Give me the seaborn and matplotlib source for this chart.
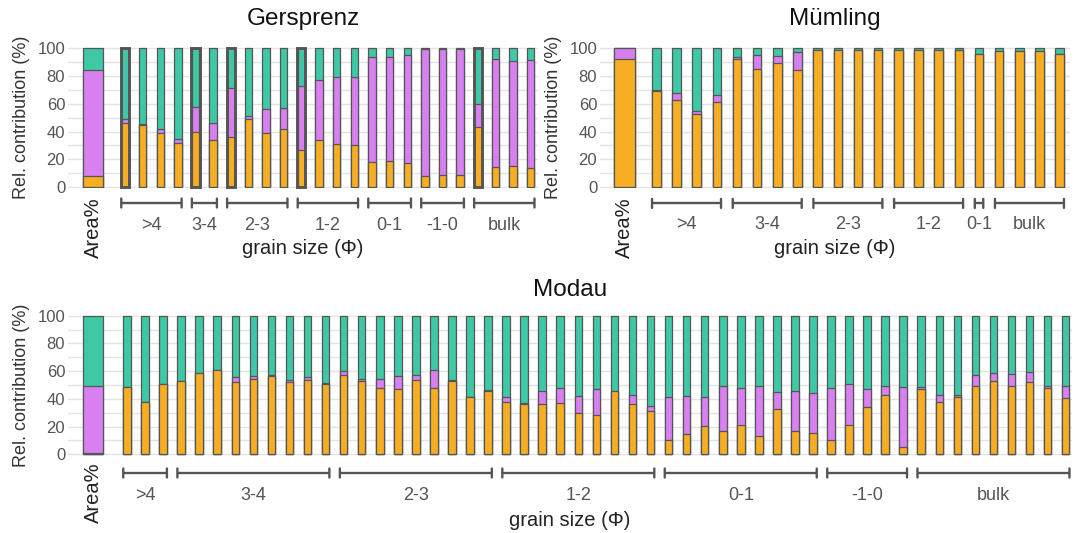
import matplotlib
matplotlib.use("Agg")
import matplotlib.pyplot as plt
import matplotlib.transforms as mtransforms
import numpy as np
import pandas as pd
import seaborn as sns

sns.set_theme(style="white")
plt.rcParams['font.family'] = ['Liberation Sans', 'DejaVu Sans']

ORANGE = "#F8AE22"
PURPLE = "#D880F0"
TEAL = "#3FC8A6"
EDGE = "#555555"

# ---------------- data ----------------
# Gersprenz
ger_area = [8, 76, 16]  # orange, purple, teal
ger_groups = [">4", "3-4", "2-3", "1-2", "0-1", "-1-0", "bulk"]
ger_counts = [4, 2, 4, 4, 3, 3, 4]
ger_orange = [46, 44.5, 39, 31.5, 39.5, 34, 36, 49, 39, 42, 27, 34, 31, 30.5,
              18, 18.5, 17.5, 8, 8.5, 8.5, 43, 14.5, 15.5, 14]
ger_purple = [3, 1, 2.5, 3, 18.5, 12, 35.5, 2, 17.5, 15, 45.5, 43.5, 48, 48.5,
              75.5, 75, 78, 91.5, 91, 91, 16.5, 77.5, 75.5, 77.5]
ger_teal = [51, 54.5, 58.5, 65.5, 42, 54, 28.5, 49, 43.5, 43, 27.5, 22.5, 21, 21,
            6.5, 6.5, 4.5, 0.5, 0.5, 0.5, 40.5, 8, 9, 8.5]
ger_highlight = [0, 4, 6, 10, 20]

# Mümling
mue_area = [92.5, 7.5, 0]
mue_groups = [">4", "3-4", "2-3", "1-2", "0-1", "bulk"]
mue_counts = [4, 4, 4, 4, 1, 4]
mue_orange = [69.5, 62.5, 52.5, 61, 92, 85, 89.5, 84, 99, 99, 99, 99, 99, 99, 99, 99,
              95.8, 98.3, 98, 98.3, 95.8]
mue_purple = [0.7, 5, 2.5, 5, 1.5, 10.5, 5, 13, 0, 0, 0, 0, 0, 0, 0, 0,
              0, 0, 0.4, 0, 0]
mue_teal = [29.8, 32.5, 45, 34, 6.5, 4.5, 5.5, 3, 1, 1, 1, 1, 1, 1, 1, 1,
            4.2, 1.7, 1.6, 1.7, 4.2]
mue_highlight = []

# Modau
mod_area = [1, 48.5, 50.5]
mod_groups = [">4", "3-4", "2-3", "1-2", "0-1", "-1-0", "bulk"]
mod_counts = [3, 9, 9, 9, 9, 5, 9]
mod_orange = [48.5, 38, 51,
              53, 58.5, 61, 52.5, 54.5, 56.5, 52, 53.5, 51,
              57.5, 53, 47.5, 47, 53.5, 47.5, 53, 41, 46,
              38, 36.5, 36.5, 37, 30, 28, 45.5, 36, 31.5,
              10.5, 15, 20.5, 16.5, 21.5, 13.5, 32.5, 17, 15.5,
              10.5, 21, 34, 42.5, 5.5,
              47, 37.5, 41, 49, 53, 49.5, 52.5, 48, 40.5]
mod_purple = [0, 0, 0,
              0, 0.5, 0, 3, 2, 1, 1.5, 2, 0.7,
              2.5, 1, 7, 9.5, 4, 13.5, 0.5, 0.7, 0.5,
              3.5, 0.5, 9.5, 10.5, 12, 19, 0.5, 7, 3,
              30.5, 27, 21, 32.5, 26.5, 35.5, 12.5, 29, 29,
              37, 29.5, 13, 6.5, 43,
              1.5, 5, 1.5, 8, 5.5, 8.5, 7, 1, 9]
mod_teal = [51.5, 62, 49,
            47, 41, 39, 44.5, 43.5, 42.5, 46.5, 44.5, 48.3,
            40, 46, 45.5, 43.5, 42.5, 39, 46.5, 58.3, 53.5,
            58.5, 63, 54, 52.5, 58, 53, 54, 57, 65.5,
            59, 58, 58.5, 51, 52, 51, 55, 54, 55.5,
            52.5, 49.5, 53, 51, 51.5,
            51.5, 57.5, 57.5, 43, 41.5, 42, 40.5, 51, 50.5]
mod_highlight = []

W, H = 1077, 533
fig = plt.figure(figsize=(W / 100, H / 100), dpi=100)


def px_rect(x0, y0, x1, y1):
    return [x0 / W, 1 - y1 / H, (x1 - x0) / W, (y1 - y0) / H]


def draw_panel(rect, title, area, orange, purple, teal, groups, counts, highlight,
               xlim, area_shift, area_width, offs, title_off):
    ax = fig.add_axes(px_rect(*rect))
    n = len(orange)
    cats = ["Area%", "_gap"] + [f"b{i}" for i in range(n)]
    df = pd.DataFrame({"cat": cats[2:], "o": orange, "p": purple, "t": teal})
    df["op"] = df["o"] + df["p"]
    df["opt"] = df["op"] + df["t"]
    da = pd.DataFrame({"cat": ["Area%"], "o": [area[0]], "p": [area[1]], "t": [area[2]]})
    da["op"] = da["o"] + da["p"]
    da["opt"] = da["op"] + da["t"]

    common = dict(x="cat", order=cats, errorbar=None, edgecolor=EDGE,
                  linewidth=0.9, saturation=1, ax=ax)
    for col, c in [("opt", TEAL), ("op", PURPLE), ("o", ORANGE)]:
        sns.barplot(data=df, y=col, color=c, width=0.42, **common)
        before = len(ax.patches)
        sns.barplot(data=da, y=col, color=c, width=area_width, **common)
        for p in ax.patches[before:]:
            p.set_x(p.get_x() + area_shift)

    if highlight:
        dh = df.iloc[highlight].copy()
        dh["full"] = dh["opt"]
        sns.barplot(data=dh, x="cat", y="full", order=cats, errorbar=None,
                    fill=False, color=EDGE, width=0.46, linewidth=2.1, ax=ax)
        for p in ax.patches[-len(highlight):]:
            p.set_edgecolor(EDGE)
            p.set_clip_on(False)
            p.set_zorder(5)

    ax.set_xlim(*xlim)
    ax.set_ylim(-1, 101)
    ax.set_xticks([])
    ax.set_xlabel("")
    ax.set_yticks([0, 20, 40, 60, 80, 100])
    ax.set_yticks([10, 30, 50, 70, 90], minor=True)
    ax.yaxis.grid(True, which="both", color="#e3e3e3", linewidth=1.0)
    ax.set_axisbelow(True)
    ax.tick_params(axis="y", which="both", length=0, pad=2, labelsize=12,
                   labelcolor="#555555")
    sns.despine(ax=ax, left=True, bottom=True)

    axw = (rect[2] - rect[0])
    ax.set_ylabel("Rel. contribution (%)", fontsize=13, color="#333333", va="center")
    ax.yaxis.set_label_coords(-46 / axw, 0.5)

    base = mtransforms.blended_transform_factory(ax.transData, ax.transAxes)
    br_off, lab_off, xl_off, area_off = offs

    # brackets and group labels
    start = 2
    tb = mtransforms.offset_copy(base, fig=fig, y=-br_off, units="dots")
    tl = mtransforms.offset_copy(base, fig=fig, y=-lab_off, units="dots")
    t_lo = mtransforms.offset_copy(base, fig=fig, y=-br_off - 4.5, units="dots")
    t_hi = mtransforms.offset_copy(base, fig=fig, y=-br_off + 4.5, units="dots")
    for g, c in zip(groups, counts):
        x0 = start - 0.21
        x1 = start + c - 1 + 0.21
        ax.plot([x0, x1], [0, 0], color=EDGE, lw=1.7, transform=tb, clip_on=False,
                solid_capstyle="butt")
        for xe in (x0, x1):
            ax.annotate("", xy=(xe, 0), xycoords=t_lo, xytext=(xe, 0), textcoords=t_hi,
                        arrowprops=dict(arrowstyle="-", color=EDGE, lw=1.7,
                                        shrinkA=0, shrinkB=0))
        ax.text((x0 + x1) / 2, 0, g, transform=tl, ha="center", va="center",
                fontsize=13, color="#555555")
        start += c

    # Area% label
    ta = mtransforms.offset_copy(base, fig=fig, y=-area_off, units="dots")
    ax.text(area_shift, 0, "Area%", transform=ta, rotation=90, ha="center", va="top",
            fontsize=14.5, color="#222222")

    # x label
    tx = mtransforms.offset_copy(ax.transAxes, fig=fig, y=-xl_off, units="dots")
    ax.text(0.5, 0, "grain size (Φ)", transform=tx, ha="center", va="center",
            fontsize=14.5, color="#222222")

    # title
    tt = mtransforms.offset_copy(ax.transAxes, fig=fig, y=title_off, units="dots")
    ax.text(0.5, 1, title, transform=tt, ha="center", va="center", fontsize=17.5,
            color="#111111")
    return ax


draw_panel((68, 46.9, 538, 188.4), "Gersprenz", ger_area, ger_orange, ger_purple, ger_teal,
           ger_groups, ger_counts, ger_highlight, (-1.23, 25.41), 0.19, 1.17,
           (14.6, 36.6, 59.6, 8.6), 28)
draw_panel((600, 46.9, 1070, 188.4), "Mümling", mue_area, mue_orange, mue_purple, mue_teal,
           mue_groups, mue_counts, mue_highlight, (-0.79, 22.51), 0.42, 1.04,
           (15.0, 36.0, 59.6, 8.6), 28)
draw_panel((68, 314.3, 1072, 455.7), "Modau", mod_area, mod_orange, mod_purple, mod_teal,
           mod_groups, mod_counts, mod_highlight, (-1.27, 54.35), 0.12, 1.11,
           (17.3, 39.5, 65.3, 6.3), 24)

fig.savefig("out.png", dpi=100)
